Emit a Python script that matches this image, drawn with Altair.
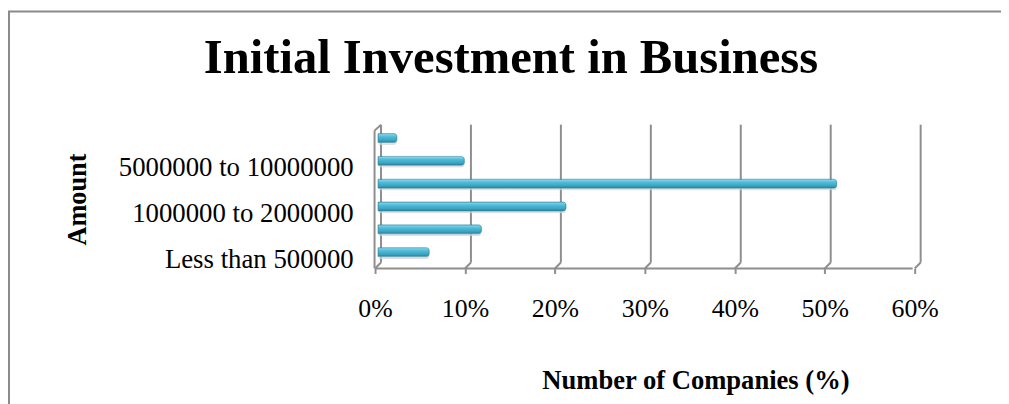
import altair as alt
import pandas as pd

# ---- data ----
categories = [
    "More than 10000000",
    "5000000 to 10000000",
    "2000000 to 5000000",
    "1000000 to 2000000",
    "500000 to 1000000",
    "Less than 500000",
]
shown_labels = ["5000000 to 10000000", "1000000 to 2000000", "Less than 500000"]
percent = [2.1, 9.6, 51.0, 20.9, 11.5, 5.7]
ticks = [0, 10, 20, 30, 40, 50, 60]

bars_df = pd.DataFrame({"Amount": categories, "pct": percent})
ticks_df = pd.DataFrame({"pct": ticks})
zero_df = pd.DataFrame({"pct": [0], "end": [60]})
one_df = pd.DataFrame({"k": [0]})

W, H = 544, 138
FONT = "Liberation Serif"
GRID = "#8e8e8e"

xscale = alt.Scale(domain=[0, 60], nice=False, zero=True)
yscale = alt.Scale(paddingInner=0, paddingOuter=0)

label_expr = " || ".join(f"datum.value == '{s}'" for s in shown_labels)
label_expr = f"({label_expr}) ? datum.label : ''"

x_axis = alt.Axis(
    values=ticks, labelExpr="datum.value + '%'", grid=False, domain=False,
    ticks=True, tickSize=5, tickWidth=2, tickColor=GRID, tickOffset=-3, offset=5,
    labelFont=FONT, labelFontSize=26, labelColor="black", labelBaseline="alphabetic",
    labelPadding=43, labelFlush=False, labelOverlap=False,
    title="Number of Companies (%)", titleFont=FONT, titleFontSize=26.8,
    titleFontWeight="bold", titleColor="black", titleX=320, titleY=121,
    titleBaseline="alphabetic", titleAlign="center",
)
y_axis = alt.Axis(
    title="Amount", labelExpr=label_expr, ticks=False, tickSize=0, domain=False, grid=False,
    labelPadding=25, labelOffset=7.5, labelFont=FONT, labelFontSize=27, labelLimit=500,
    labelColor="black", labelBaseline="middle", labelOverlap=False,
    titleFont=FONT, titleFontSize=26.5, titleFontWeight="bold", titleColor="black",
    titleX=-295, titleY=73, titleAngle=270, titleBaseline="alphabetic", titleAlign="center",
)

bar_fill = alt.LinearGradient(
    gradient="linear",
    stops=[
        alt.GradientStop(color="#8fdcef", offset=0),
        alt.GradientStop(color="#4fbcd9", offset=0.35),
        alt.GradientStop(color="#3aa3c0", offset=0.75),
        alt.GradientStop(color="#2b7d93", offset=1),
    ],
    x1=0, x2=0, y1=0, y2=1,
)

shadow = alt.Chart(bars_df).mark_bar(
    size=9, cornerRadiusEnd=3, color="#d4d4d4", opacity=0.7, yOffset=2.5, xOffset=1
).encode(
    x=alt.X("pct:Q", scale=xscale),
    y=alt.Y("Amount:N", sort=categories, scale=yscale),
)

bars = alt.Chart(bars_df).mark_bar(
    size=9, cornerRadiusEnd=3, color=bar_fill, stroke="#2f8aa3", strokeWidth=0.6
).encode(
    x=alt.X("pct:Q", scale=xscale, axis=x_axis),
    y=alt.Y("Amount:N", sort=categories, scale=yscale, axis=y_axis),
)

grid = alt.Chart(ticks_df).mark_rule(color=GRID, strokeWidth=2, xOffset=3).encode(
    x=alt.X("pct:Q", scale=xscale), y=alt.value(-2), y2=alt.value(137)
)
stubs = alt.Chart(ticks_df).mark_rule(
    color=GRID, strokeWidth=2, xOffset=3, x2Offset=-3
).encode(
    x=alt.X("pct:Q", scale=xscale), x2=alt.X2("pct"), y=alt.value(137), y2=alt.value(143)
)
front_axis = alt.Chart(zero_df).mark_rule(
    color=GRID, strokeWidth=2, xOffset=-3, x2Offset=-5
).encode(x=alt.X("pct:Q", scale=xscale), x2=alt.X2("end"), y=alt.value(143))
wall_front = alt.Chart(zero_df).mark_rule(
    color=GRID, strokeWidth=2, xOffset=-3.5
).encode(x=alt.X("pct:Q", scale=xscale), y=alt.value(4), y2=alt.value(143))
wall_top = alt.Chart(zero_df).mark_rule(
    color=GRID, strokeWidth=2, xOffset=-3.5, x2Offset=3
).encode(x=alt.X("pct:Q", scale=xscale), x2=alt.X2("pct"), y=alt.value(4), y2=alt.value(-2))

frame_left = alt.Chart(one_df).mark_rule(color="#8a8a8a", strokeWidth=2).encode(
    x=alt.value(-372), y=alt.value(-116), y2=alt.value(280)
)
frame_top = alt.Chart(one_df).mark_rule(color="#8a8a8a", strokeWidth=2).encode(
    x=alt.value(-373), x2=alt.value(630), y=alt.value(-116)
)

chart = alt.layer(
    frame_left, frame_top, grid, stubs, wall_front, wall_top, front_axis, shadow, bars
).properties(
    width=W, height=H,
    title=alt.TitleParams(
        "Initial Investment in Business", font=FONT, fontSize=49, fontWeight="bold",
        color="black", frame="group", anchor="middle", dx=-138, dy=163,
        baseline="alphabetic", offset=51,
    ),
    autosize=alt.AutoSizeParams(type="none"),
    padding={"left": 373, "top": 118, "right": 84, "bottom": 140},
).configure(background="white").configure_view(stroke=None)

chart.save("out.html", embed_options={"renderer": "svg", "actions": False})
